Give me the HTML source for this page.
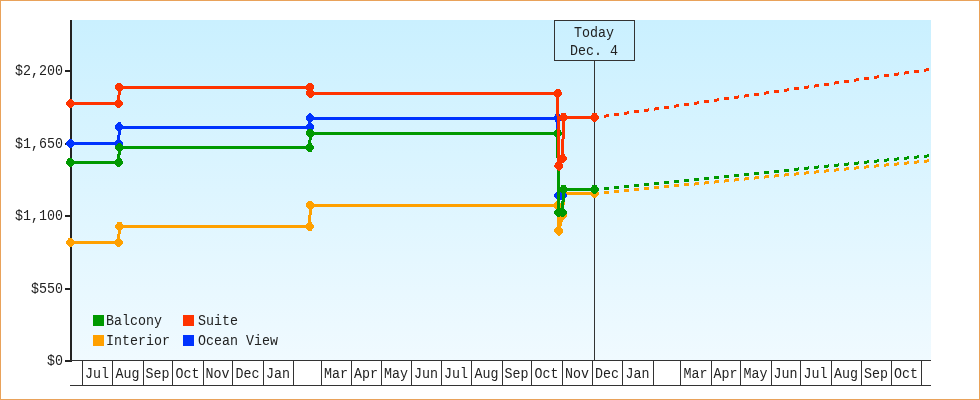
<!DOCTYPE html><html><head><meta charset="utf-8"><style>html,body{margin:0;padding:0;background:#fff;}svg{display:block;will-change:transform;}text{font-family:"Liberation Mono", monospace;}</style></head><body>
<svg width="980" height="400" viewBox="0 0 980 400">
<defs><linearGradient id="bg" x1="0" y1="0" x2="0" y2="1"><stop offset="0" stop-color="#CAF0FF"/><stop offset="1" stop-color="#F0FAFF"/></linearGradient></defs>
<rect x="0" y="0" width="980" height="400" fill="#fff"/>
<rect x="0.5" y="0.5" width="979" height="399" fill="none" stroke="#E9A25A" stroke-width="1"/>
<rect x="70" y="20" width="861" height="340" fill="url(#bg)"/>
<g shape-rendering="crispEdges" fill="#222">
<rect x="70" y="20" width="2" height="342"/>
<rect x="65" y="70" width="6" height="2"/>
<rect x="65" y="143" width="6" height="2"/>
<rect x="65" y="215" width="6" height="2"/>
<rect x="65" y="288" width="6" height="2"/>
<rect x="65" y="360" width="6" height="2"/>
<g fill="#333">
<rect x="70" y="360" width="861" height="1"/>
<rect x="70" y="385" width="861" height="1"/>
<rect x="82" y="360" width="1" height="26"/>
<rect x="112" y="360" width="1" height="26"/>
<rect x="143" y="360" width="1" height="26"/>
<rect x="172" y="360" width="1" height="26"/>
<rect x="203" y="360" width="1" height="26"/>
<rect x="232" y="360" width="1" height="26"/>
<rect x="263" y="360" width="1" height="26"/>
<rect x="293" y="360" width="1" height="26"/>
<rect x="321" y="360" width="1" height="26"/>
<rect x="351" y="360" width="1" height="26"/>
<rect x="381" y="360" width="1" height="26"/>
<rect x="411" y="360" width="1" height="26"/>
<rect x="441" y="360" width="1" height="26"/>
<rect x="471" y="360" width="1" height="26"/>
<rect x="502" y="360" width="1" height="26"/>
<rect x="531" y="360" width="1" height="26"/>
<rect x="562" y="360" width="1" height="26"/>
<rect x="592" y="360" width="1" height="26"/>
<rect x="622" y="360" width="1" height="26"/>
<rect x="653" y="360" width="1" height="26"/>
<rect x="680" y="360" width="1" height="26"/>
<rect x="711" y="360" width="1" height="26"/>
<rect x="740" y="360" width="1" height="26"/>
<rect x="771" y="360" width="1" height="26"/>
<rect x="800" y="360" width="1" height="26"/>
<rect x="831" y="360" width="1" height="26"/>
<rect x="861" y="360" width="1" height="26"/>
<rect x="891" y="360" width="1" height="26"/>
<rect x="921" y="360" width="1" height="26"/>
</g></g>
<g font-size="13.333" fill="#222222" text-anchor="middle">
<text transform="translate(97.00,378.00) scale(1,1.140)" text-anchor="middle">Jul</text>
<text transform="translate(127.50,378.00) scale(1,1.140)" text-anchor="middle">Aug</text>
<text transform="translate(157.50,378.00) scale(1,1.140)" text-anchor="middle">Sep</text>
<text transform="translate(187.50,378.00) scale(1,1.140)" text-anchor="middle">Oct</text>
<text transform="translate(217.50,378.00) scale(1,1.140)" text-anchor="middle">Nov</text>
<text transform="translate(247.50,378.00) scale(1,1.140)" text-anchor="middle">Dec</text>
<text transform="translate(278.00,378.00) scale(1,1.140)" text-anchor="middle">Jan</text>
<text transform="translate(336.00,378.00) scale(1,1.140)" text-anchor="middle">Mar</text>
<text transform="translate(366.00,378.00) scale(1,1.140)" text-anchor="middle">Apr</text>
<text transform="translate(396.00,378.00) scale(1,1.140)" text-anchor="middle">May</text>
<text transform="translate(426.00,378.00) scale(1,1.140)" text-anchor="middle">Jun</text>
<text transform="translate(456.00,378.00) scale(1,1.140)" text-anchor="middle">Jul</text>
<text transform="translate(486.50,378.00) scale(1,1.140)" text-anchor="middle">Aug</text>
<text transform="translate(516.50,378.00) scale(1,1.140)" text-anchor="middle">Sep</text>
<text transform="translate(546.50,378.00) scale(1,1.140)" text-anchor="middle">Oct</text>
<text transform="translate(577.00,378.00) scale(1,1.140)" text-anchor="middle">Nov</text>
<text transform="translate(607.00,378.00) scale(1,1.140)" text-anchor="middle">Dec</text>
<text transform="translate(637.50,378.00) scale(1,1.140)" text-anchor="middle">Jan</text>
<text transform="translate(695.50,378.00) scale(1,1.140)" text-anchor="middle">Mar</text>
<text transform="translate(725.50,378.00) scale(1,1.140)" text-anchor="middle">Apr</text>
<text transform="translate(755.50,378.00) scale(1,1.140)" text-anchor="middle">May</text>
<text transform="translate(785.50,378.00) scale(1,1.140)" text-anchor="middle">Jun</text>
<text transform="translate(815.50,378.00) scale(1,1.140)" text-anchor="middle">Jul</text>
<text transform="translate(846.00,378.00) scale(1,1.140)" text-anchor="middle">Aug</text>
<text transform="translate(876.00,378.00) scale(1,1.140)" text-anchor="middle">Sep</text>
<text transform="translate(906.00,378.00) scale(1,1.140)" text-anchor="middle">Oct</text>
</g>
<g font-size="13.333" fill="#222222" text-anchor="end">
<text transform="translate(63.00,75.00) scale(1,1.140)" text-anchor="end">$2,200</text>
<text transform="translate(63.00,148.00) scale(1,1.140)" text-anchor="end">$1,650</text>
<text transform="translate(63.00,220.00) scale(1,1.140)" text-anchor="end">$1,100</text>
<text transform="translate(63.00,293.00) scale(1,1.140)" text-anchor="end">$550</text>
<text transform="translate(63.00,365.00) scale(1,1.140)" text-anchor="end">$0</text>
</g>
<g shape-rendering="crispEdges">
<rect x="554.5" y="20.5" width="80" height="40" fill="none" stroke="#333" stroke-width="1"/>
<rect x="594" y="61" width="1" height="299" fill="#333"/>
</g>
<g font-size="13.333" fill="#222222" text-anchor="middle">
<text transform="translate(594.00,37.00) scale(1,1.140)" text-anchor="middle">Today</text><text transform="translate(594.00,55.00) scale(1,1.140)" text-anchor="middle">Dec. 4</text>
</g>
<g shape-rendering="crispEdges">
<path d="M594 192h5v3h-5zM604 191h5v3h-5zM614 190h5v3h-5zM624 189h5v3h-5zM634 188h5v3h-5zM644 187h5v3h-5zM654 186h5v3h-5zM664 185h5v3h-5zM674 184h5v3h-5zM684 183h5v3h-5zM694 183h1v3h-1zM695 182h4v3h-4zM704 182h1v3h-1zM705 181h4v3h-4zM714 181h1v3h-1zM715 180h4v3h-4zM724 180h1v3h-1zM725 179h4v3h-4zM734 179h1v3h-1zM735 178h4v3h-4zM744 178h1v3h-1zM745 177h4v3h-4zM754 177h1v3h-1zM755 176h4v3h-4zM764 176h1v3h-1zM765 175h4v3h-4zM774 175h1v3h-1zM775 174h4v3h-4zM784 174h1v3h-1zM785 173h4v3h-4zM794 173h2v3h-2zM796 172h3v3h-3zM804 172h2v3h-2zM806 171h3v3h-3zM814 171h2v3h-2zM816 170h3v3h-3zM824 170h2v3h-2zM826 169h3v3h-3zM834 169h2v3h-2zM836 168h3v3h-3zM844 168h2v3h-2zM846 167h3v3h-3zM854 167h2v3h-2zM856 166h3v3h-3zM864 166h2v3h-2zM866 165h3v3h-3zM874 165h2v3h-2zM876 164h3v3h-3zM884 164h2v3h-2zM886 163h3v3h-3zM894 163h3v3h-3zM897 162h2v3h-2zM904 162h3v3h-3zM907 161h2v3h-2zM914 161h3v3h-3zM917 160h2v3h-2zM924 160h3v3h-3zM927 159h2v3h-2z" fill="#FFA000"/>
<polyline points="70.30,242.40 118.50,242.50 119.50,226.20 309.80,226.50 310.20,205.30 557.70,205.40 558.70,230.80 562.60,215.00 563.50,193.40 594.50,193.40" fill="none" stroke="#FFA000" stroke-width="3" stroke-linejoin="miter"/>
<polygon points="69.20,237.70 71.40,237.70 74.70,241.30 74.70,243.50 71.40,247.10 69.20,247.10 65.90,243.50 65.90,241.30" fill="#FFA000"/>
<polygon points="117.40,237.80 119.60,237.80 122.90,241.40 122.90,243.60 119.60,247.20 117.40,247.20 114.10,243.60 114.10,241.40" fill="#FFA000"/>
<polygon points="118.40,221.50 120.60,221.50 123.90,225.10 123.90,227.30 120.60,230.90 118.40,230.90 115.10,227.30 115.10,225.10" fill="#FFA000"/>
<polygon points="308.70,221.80 310.90,221.80 314.20,225.40 314.20,227.60 310.90,231.20 308.70,231.20 305.40,227.60 305.40,225.40" fill="#FFA000"/>
<polygon points="309.10,200.60 311.30,200.60 314.60,204.20 314.60,206.40 311.30,210.00 309.10,210.00 305.80,206.40 305.80,204.20" fill="#FFA000"/>
<polygon points="556.60,200.70 558.80,200.70 562.10,204.30 562.10,206.50 558.80,210.10 556.60,210.10 553.30,206.50 553.30,204.30" fill="#FFA000"/>
<polygon points="557.60,226.10 559.80,226.10 563.10,229.70 563.10,231.90 559.80,235.50 557.60,235.50 554.30,231.90 554.30,229.70" fill="#FFA000"/>
<polygon points="561.50,210.30 563.70,210.30 567.00,213.90 567.00,216.10 563.70,219.70 561.50,219.70 558.20,216.10 558.20,213.90" fill="#FFA000"/>
<polygon points="562.40,188.70 564.60,188.70 567.90,192.30 567.90,194.50 564.60,198.10 562.40,198.10 559.10,194.50 559.10,192.30" fill="#FFA000"/>
<polygon points="593.40,188.70 595.60,188.70 598.90,192.30 598.90,194.50 595.60,198.10 593.40,198.10 590.10,194.50 590.10,192.30" fill="#FFA000"/>
<polyline points="70.30,143.50 118.70,143.50 119.30,127.00 309.80,127.00 310.20,118.00 557.70,118.00 558.70,195.60 562.60,195.60" fill="none" stroke="#0033FF" stroke-width="3" stroke-linejoin="miter"/>
<polygon points="69.20,138.80 71.40,138.80 74.70,142.40 74.70,144.60 71.40,148.20 69.20,148.20 65.90,144.60 65.90,142.40" fill="#0033FF"/>
<polygon points="117.60,138.80 119.80,138.80 123.10,142.40 123.10,144.60 119.80,148.20 117.60,148.20 114.30,144.60 114.30,142.40" fill="#0033FF"/>
<polygon points="118.20,122.30 120.40,122.30 123.70,125.90 123.70,128.10 120.40,131.70 118.20,131.70 114.90,128.10 114.90,125.90" fill="#0033FF"/>
<polygon points="308.70,122.30 310.90,122.30 314.20,125.90 314.20,128.10 310.90,131.70 308.70,131.70 305.40,128.10 305.40,125.90" fill="#0033FF"/>
<polygon points="309.10,113.30 311.30,113.30 314.60,116.90 314.60,119.10 311.30,122.70 309.10,122.70 305.80,119.10 305.80,116.90" fill="#0033FF"/>
<polygon points="556.60,113.30 558.80,113.30 562.10,116.90 562.10,119.10 558.80,122.70 556.60,122.70 553.30,119.10 553.30,116.90" fill="#0033FF"/>
<polygon points="557.60,190.90 559.80,190.90 563.10,194.50 563.10,196.70 559.80,200.30 557.60,200.30 554.30,196.70 554.30,194.50" fill="#0033FF"/>
<polygon points="561.50,190.90 563.70,190.90 567.00,194.50 567.00,196.70 563.70,200.30 561.50,200.30 558.20,196.70 558.20,194.50" fill="#0033FF"/>
<path d="M594 188h5v3h-5zM604 187h5v3h-5zM614 186h5v3h-5zM624 185h5v3h-5zM634 184h5v3h-5zM644 183h5v3h-5zM654 182h5v3h-5zM664 181h5v3h-5zM674 180h5v3h-5zM684 179h5v3h-5zM694 178h5v3h-5zM704 177h5v3h-5zM714 176h5v3h-5zM724 175h5v3h-5zM734 174h5v3h-5zM744 173h5v3h-5zM754 172h5v3h-5zM764 171h5v3h-5zM774 170h5v3h-5zM784 169h5v3h-5zM794 168h4v3h-4zM798 167h1v3h-1zM804 167h4v3h-4zM808 166h1v3h-1zM814 166h4v3h-4zM818 165h1v3h-1zM824 165h4v3h-4zM828 164h1v3h-1zM834 164h4v3h-4zM838 163h1v3h-1zM844 163h4v3h-4zM848 162h1v3h-1zM854 162h4v3h-4zM858 161h1v3h-1zM864 161h3v3h-3zM867 160h2v3h-2zM874 160h3v3h-3zM877 159h2v3h-2zM884 159h3v3h-3zM887 158h2v3h-2zM894 158h3v3h-3zM897 157h2v3h-2zM904 157h3v3h-3zM907 156h2v3h-2zM914 156h3v3h-3zM917 155h2v3h-2zM924 155h3v3h-3zM927 154h2v3h-2z" fill="#009900"/>
<polyline points="70.30,162.30 118.70,162.30 119.30,147.50 309.80,147.50 310.20,133.30 557.70,133.30 558.70,212.40 562.60,212.40 563.50,189.20 594.50,189.20" fill="none" stroke="#009900" stroke-width="3" stroke-linejoin="miter"/>
<polygon points="69.20,157.60 71.40,157.60 74.70,161.20 74.70,163.40 71.40,167.00 69.20,167.00 65.90,163.40 65.90,161.20" fill="#009900"/>
<polygon points="117.60,157.60 119.80,157.60 123.10,161.20 123.10,163.40 119.80,167.00 117.60,167.00 114.30,163.40 114.30,161.20" fill="#009900"/>
<polygon points="118.20,142.80 120.40,142.80 123.70,146.40 123.70,148.60 120.40,152.20 118.20,152.20 114.90,148.60 114.90,146.40" fill="#009900"/>
<polygon points="308.70,142.80 310.90,142.80 314.20,146.40 314.20,148.60 310.90,152.20 308.70,152.20 305.40,148.60 305.40,146.40" fill="#009900"/>
<polygon points="309.10,128.60 311.30,128.60 314.60,132.20 314.60,134.40 311.30,138.00 309.10,138.00 305.80,134.40 305.80,132.20" fill="#009900"/>
<polygon points="556.60,128.60 558.80,128.60 562.10,132.20 562.10,134.40 558.80,138.00 556.60,138.00 553.30,134.40 553.30,132.20" fill="#009900"/>
<polygon points="557.60,207.70 559.80,207.70 563.10,211.30 563.10,213.50 559.80,217.10 557.60,217.10 554.30,213.50 554.30,211.30" fill="#009900"/>
<polygon points="561.50,207.70 563.70,207.70 567.00,211.30 567.00,213.50 563.70,217.10 561.50,217.10 558.20,213.50 558.20,211.30" fill="#009900"/>
<polygon points="562.40,184.50 564.60,184.50 567.90,188.10 567.90,190.30 564.60,193.90 562.40,193.90 559.10,190.30 559.10,188.10" fill="#009900"/>
<polygon points="593.40,184.50 595.60,184.50 598.90,188.10 598.90,190.30 595.60,193.90 593.40,193.90 590.10,190.30 590.10,188.10" fill="#009900"/>
<path d="M594 116h5v3h-5zM604 115h2v3h-2zM606 114h3v3h-3zM614 113h5v3h-5zM624 112h3v3h-3zM627 111h2v3h-2zM634 110h5v3h-5zM644 109h4v3h-4zM648 108h1v3h-1zM654 108h1v3h-1zM655 107h4v3h-4zM664 106h5v3h-5zM674 105h2v3h-2zM676 104h3v3h-3zM684 103h5v3h-5zM694 102h3v3h-3zM697 101h2v3h-2zM704 100h5v3h-5zM714 99h3v3h-3zM717 98h2v3h-2zM724 97h5v3h-5zM734 96h4v3h-4zM738 95h1v3h-1zM744 95h1v3h-1zM745 94h4v3h-4zM754 93h5v3h-5zM764 92h2v3h-2zM766 91h3v3h-3zM774 90h5v3h-5zM784 89h3v3h-3zM787 88h2v3h-2zM794 87h5v3h-5zM804 86h4v3h-4zM808 85h1v3h-1zM814 85h1v3h-1zM815 84h4v3h-4zM824 83h5v3h-5zM834 82h1v3h-1zM835 81h4v3h-4zM844 80h5v3h-5zM854 79h2v3h-2zM856 78h3v3h-3zM864 77h5v3h-5zM874 76h3v3h-3zM877 75h2v3h-2zM884 74h5v3h-5zM894 73h4v3h-4zM898 72h1v3h-1zM904 72h1v3h-1zM905 71h4v3h-4zM914 70h5v3h-5zM924 69h2v3h-2zM926 68h3v3h-3z" fill="#FF3300"/>
<polyline points="70.30,103.50 118.70,103.50 119.30,87.20 309.80,87.20 310.20,93.30 557.70,93.30 558.70,165.90 562.60,158.25 563.50,117.20 594.50,117.20" fill="none" stroke="#FF3300" stroke-width="3" stroke-linejoin="miter"/>
<polygon points="69.20,98.80 71.40,98.80 74.70,102.40 74.70,104.60 71.40,108.20 69.20,108.20 65.90,104.60 65.90,102.40" fill="#FF3300"/>
<polygon points="117.60,98.80 119.80,98.80 123.10,102.40 123.10,104.60 119.80,108.20 117.60,108.20 114.30,104.60 114.30,102.40" fill="#FF3300"/>
<polygon points="118.20,82.50 120.40,82.50 123.70,86.10 123.70,88.30 120.40,91.90 118.20,91.90 114.90,88.30 114.90,86.10" fill="#FF3300"/>
<polygon points="308.70,82.50 310.90,82.50 314.20,86.10 314.20,88.30 310.90,91.90 308.70,91.90 305.40,88.30 305.40,86.10" fill="#FF3300"/>
<polygon points="309.10,88.60 311.30,88.60 314.60,92.20 314.60,94.40 311.30,98.00 309.10,98.00 305.80,94.40 305.80,92.20" fill="#FF3300"/>
<polygon points="556.60,88.60 558.80,88.60 562.10,92.20 562.10,94.40 558.80,98.00 556.60,98.00 553.30,94.40 553.30,92.20" fill="#FF3300"/>
<polygon points="557.60,161.20 559.80,161.20 563.10,164.80 563.10,167.00 559.80,170.60 557.60,170.60 554.30,167.00 554.30,164.80" fill="#FF3300"/>
<polygon points="561.50,153.55 563.70,153.55 567.00,157.15 567.00,159.35 563.70,162.95 561.50,162.95 558.20,159.35 558.20,157.15" fill="#FF3300"/>
<polygon points="562.40,112.50 564.60,112.50 567.90,116.10 567.90,118.30 564.60,121.90 562.40,121.90 559.10,118.30 559.10,116.10" fill="#FF3300"/>
<polygon points="593.40,112.50 595.60,112.50 598.90,116.10 598.90,118.30 595.60,121.90 593.40,121.90 590.10,118.30 590.10,116.10" fill="#FF3300"/>
</g>
<g shape-rendering="crispEdges">
<rect x="93" y="315" width="11" height="11" fill="#009900"/>
<rect x="183" y="315" width="11" height="11" fill="#FF3300"/>
<rect x="93" y="335" width="11" height="11" fill="#FFA000"/>
<rect x="183" y="335" width="11" height="11" fill="#0033FF"/>
</g>
<g font-size="13.333" fill="#222222">
<text transform="translate(106.00,325.00) scale(1,1.140)" text-anchor="start">Balcony</text>
<text transform="translate(198.00,325.00) scale(1,1.140)" text-anchor="start">Suite</text>
<text transform="translate(106.00,345.00) scale(1,1.140)" text-anchor="start">Interior</text>
<text transform="translate(198.00,345.00) scale(1,1.140)" text-anchor="start">Ocean View</text>
</g>
</svg></body></html>
